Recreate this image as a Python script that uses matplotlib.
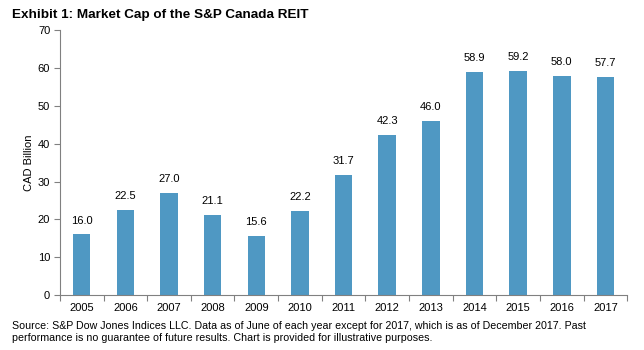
import matplotlib
matplotlib.use("Agg")
import matplotlib.pyplot as plt
import numpy as np

years = ["2005", "2006", "2007", "2008", "2009", "2010", "2011", "2012", "2013", "2014", "2015", "2016", "2017"]
values = [16.0, 22.5, 27.0, 21.1, 15.6, 22.2, 31.7, 42.3, 46.0, 58.9, 59.2, 58.0, 57.7]
yticks = [0, 10, 20, 30, 40, 50, 60, 70]

plt.rcParams['font.family'] = ['Liberation Sans', 'DejaVu Sans']

fig = plt.figure(figsize=(6.44, 3.5), dpi=100)
ax = fig.add_axes([0.093, 0.157, 0.881, 0.757])

x = np.arange(len(years))
bars = ax.bar(x, values, width=0.4, color="#4F98C3")
for xi, v in zip(x, values):
    ax.text(xi, v + 2.3, f"{v:.1f}", ha="center", va="bottom", fontsize=8, color="black")

ax.set_xlim(-0.5, len(years) - 0.5)
ax.set_ylim(0, 70)
ax.set_yticks(yticks)
ax.set_yticklabels([str(t) for t in yticks], fontsize=8)
ax.set_xticks(x)
ax.set_xticklabels(years, fontsize=8)
ax.tick_params(axis="x", which="major", length=0, pad=6)
ax.set_xticks(np.arange(-0.5, len(years)), minor=True)
ax.tick_params(axis="x", which="minor", length=4, width=0.8, color="#808080", direction="out")
ax.tick_params(axis="y", length=4, width=0.8, color="#808080", direction="out", pad=3)

for s in ["top", "right"]:
    ax.spines[s].set_visible(False)
for s in ["left", "bottom"]:
    ax.spines[s].set_color("#808080")
    ax.spines[s].set_linewidth(0.8)

ax.set_ylabel("CAD Billion", fontsize=8, labelpad=3)

fig.text(0.018, 0.957, "Exhibit 1: Market Cap of the S&P Canada REIT", fontsize=9.7, fontweight="bold", va="center", ha="left")
fig.text(0.019, 0.051, "Source: S&P Dow Jones Indices LLC. Data as of June of each year except for 2017, which is as of December 2017. Past\nperformance is no guarantee of future results. Chart is provided for illustrative purposes.",
         fontsize=7.7, va="center", ha="left", linespacing=1.3)

fig.savefig("out.png", dpi=100)
